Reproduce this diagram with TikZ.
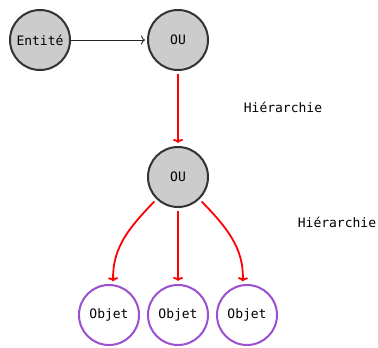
\documentclass[tikz,border=0pt]{standalone}
\usepackage{fontspec}
\setmainfont{DejaVu Sans Mono}
\usepackage{tikz}
\usetikzlibrary{arrows,arrows.meta,positioning}
\definecolor{grisfond}{HTML}{CCCCCC}
\definecolor{grisbord}{HTML}{333333}
\definecolor{violet}{HTML}{9B50D0}
\tikzstyle{entite}=[circle, draw=grisbord, fill=grisfond, line width=2pt,
minimum size=60pt, inner sep=0pt, font=\fontsize{13}{15}\selectfont]
\tikzstyle{objet} = [entite, draw=violet, fill=white]
\tikzstyle{texto} = [font=\fontsize{13}{15}\selectfont]
\tikzstyle{line} = [draw, line width=0.9pt, color=black!85,
-{To[length=4pt,width=9pt]}, shorten >=2pt]
\tikzstyle{hier} = [draw, line width=1.8pt, color=red,
-{To[length=4pt,width=10pt]}, shorten <=3pt, shorten >=3pt]

\begin{document}
\begin{tikzpicture}[x=1pt,y=-1pt]
	\useasboundingbox (0,0) rectangle (378,348);

	% Draw diagram elements
	\node (ent)[entite] at (40,40) {Entité};
	\node (ou1)[entite, right=76pt of ent] {OU};
	\node (ou2)[entite, below=75pt of ou1] {OU};
	\node (ob2)[objet, below=76pt of ou2] {Objet};
	\node (ob1)[objet, left=7pt of ob2] {Objet};
	\node (ob3)[objet, right=7pt of ob2] {Objet};
	\node (h1)[texto] at (283,107) {Hiérarchie};
	\node (h2)[texto] at (337,222) {Hiérarchie};

	% Draw arrows between elements
	\path [line] (ent) -- (ou1);
	\path [hier] (ou1) -- (ou2);
	\path [hier] (ou2.226) to[out=226,in=92] (ob1.82);
	\path [hier] (ou2) -- (ob2);
	\path [hier] (ou2.314) to[out=314,in=88] (ob3.98);

\end{tikzpicture}
\end{document}
